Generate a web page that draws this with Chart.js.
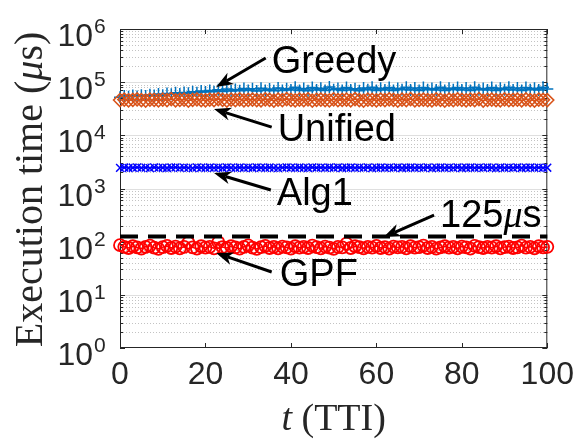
<!DOCTYPE html>
<html>
<head>
<meta charset="utf-8">
<script src="https://cdn.jsdelivr.net/npm/chart.js@4.4.1/dist/chart.umd.min.js"></script>
<style>
  html, body { margin: 0; padding: 0; background: #fff; }
  #wrap { width: 582px; height: 440px; position: relative; }
</style>
</head>
<body>
<div id="wrap"><canvas id="chart" width="582" height="440"></canvas></div>
<script>
// Time index (TTI), one sample per TTI
const tti = Array.from({ length: 101 }, (_, i) => i);

// Execution time per TTI, in microseconds
const greedyTimes = [
  52000, 55000, 53000, 56000, 54000, 57000, 55000, 58000, 56000, 60000,
  57000, 61000, 59000, 63000, 60000, 64000, 62000, 66000, 63000, 68000,
  65000, 70000, 66000, 72000, 67000, 74000, 68000, 73000, 69000, 76000,
  70000, 75000, 68000, 77000, 70000, 74000, 69000, 78000, 70000, 75000,
  71000, 80000, 70000, 76000, 69000, 79000, 71000, 77000, 70000, 81000,
  72000, 76000, 70000, 79000, 71000, 75000, 69000, 78000, 72000, 80000,
  70000, 77000, 71000, 79000, 70000, 76000, 72000, 80000, 71000, 78000,
  70000, 79000, 72000, 76000, 71000, 80000, 70000, 77000, 72000, 79000,
  71000, 78000, 70000, 80000, 72000, 76000, 71000, 79000, 70000, 77000,
  72000, 80000, 71000, 78000, 70000, 79000, 72000, 77000, 71000, 80000,
  74000
];
const unifiedTimes = [
  46000, 47000, 45500, 46500, 47500, 46000, 45000, 47000, 46500, 45500,
  47000, 46000, 48000, 45500, 46500, 47000, 45000, 46500, 47500, 46000,
  45500, 47000, 46000, 48000, 46500, 45000, 47000, 46000, 47500, 45500,
  46500, 47000, 46000, 45500, 47500, 46500, 45000, 47000, 46000, 48000,
  46500, 45500, 47000, 46000, 47500, 45000, 46500, 47000, 46000, 45500,
  47500, 46000, 46500, 47000, 45500, 48000, 46000, 45000, 47000, 46500,
  45500, 47000, 46000, 47500, 46500, 45000, 47000, 46000, 48000, 45500,
  46500, 47000, 46000, 45500, 47500, 46500, 45000, 47000, 46000, 47500,
  46500, 45500, 47000, 46000, 48000, 45000, 46500, 47000, 46000, 45500,
  47500, 46000, 46500, 47000, 45500, 47500, 46000, 45000, 47000, 46500,
  46000
];
const alg1Times = [
  2450, 2480, 2430, 2460, 2500, 2440, 2470, 2420, 2490, 2450,
  2460, 2430, 2480, 2500, 2440, 2470, 2450, 2420, 2490, 2460,
  2440, 2480, 2450, 2470, 2430, 2500, 2460, 2440, 2480, 2450,
  2470, 2430, 2490, 2460, 2440, 2480, 2450, 2420, 2470, 2500,
  2460, 2440, 2480, 2450, 2430, 2490, 2460, 2470, 2440, 2480,
  2450, 2500, 2430, 2460, 2480, 2440, 2470, 2450, 2490, 2420,
  2460, 2480, 2440, 2470, 2450, 2500, 2430, 2460, 2480, 2440,
  2470, 2450, 2490, 2420, 2460, 2480, 2440, 2470, 2450, 2500,
  2430, 2460, 2480, 2440, 2470, 2450, 2490, 2460, 2420, 2480,
  2440, 2470, 2450, 2500, 2430, 2460, 2480, 2440, 2470, 2450,
  2460
];
const gpfTimes = [
  86, 80, 76, 82, 78, 74, 80, 84, 77, 73,
  79, 83, 76, 81, 75, 80, 96, 78, 74, 82,
  77, 80, 75, 98, 79, 76, 82, 78, 74, 80,
  85, 77, 73, 79, 83, 76, 80, 75, 81, 78,
  74, 82, 77, 80, 76, 84, 79, 75, 81, 77,
  73, 80, 78, 92, 76, 82, 79, 75, 80, 77,
  83, 76, 79, 74, 81, 78, 80, 75, 82, 77,
  79, 84, 76, 80, 74, 78, 82, 77, 80, 75,
  81, 78, 74, 83, 79, 76, 80, 77, 82, 75,
  79, 81, 76, 78, 84, 77, 80, 75, 82, 78,
  80
];
// Real-time budget per TTI
const budgetTime = 125;
const budgetSpan = [0, 100];

// Axis ticks
const xTickStep = 20;
const yDecades = [0, 1, 2, 3, 4, 5, 6];

// Callouts: label, text anchor (t, µs), arrow tail and head (t, µs)
const callouts = [
  { parts: [['Greedy', 'sans']], text: [35.5, 1.49e5], tail: [34.1, 2.85e5], head: [22.5, 8.1e4] },
  { parts: [['Unified', 'sans']], text: [36.9, 7.8e3], tail: [35.5, 1.43e4], head: [22.0, 3.13e4] },
  { parts: [['Alg1', 'sans']], text: [36.7, 489], tail: [35.3, 937], head: [22.0, 1955] },
  { parts: [['GPF', 'sans']], text: [37.4, 14.7], tail: [35.5, 26.9], head: [22.5, 61] },
  { parts: [['125', 'sans'], ['\u03BC', 'ital'], ['s', 'sans']], text: [74.9, 189], tail: [73.5, 317], head: [61.7, 122] }
];

const toXY = (vals) => vals.map((v, i) => ({ x: tti[i], y: v }));

const AXIS = '#262626';
const SANS = '"Liberation Sans", Arial, sans-serif';
const SERIF = '"Liberation Serif", "Times New Roman", serif';

const fonts = {
  sans: '38px ' + SANS,
  ital: 'italic 38px ' + SERIF
};

function drawParts(ctx, parts, x, y, fontMap, align) {
  let total = 0;
  const widths = parts.map(([s, f]) => { ctx.font = fontMap[f]; const w = ctx.measureText(s).width; total += w; return w; });
  let cx = align === 'center' ? x - total / 2 : x;
  parts.forEach(([s, f], i) => {
    ctx.font = fontMap[f];
    ctx.fillText(s, cx, y);
    cx += widths[i];
  });
}

const frame = {
  id: 'frame',
  beforeDatasetsDraw(chart) {
    const { ctx, chartArea: a, scales: { x, y } } = chart;
    ctx.save();
    // horizontal grid: solid at decades, dotted in between
    for (let d = 0; d < yDecades.length - 1; d++) {
      for (let m = 1; m <= 9; m++) {
        const py = Math.round(y.getPixelForValue(m * Math.pow(10, yDecades[d]))) + 0.5;
        if (m === 1 && d === 0) continue;
        ctx.beginPath();
        if (m === 1) { ctx.setLineDash([]); ctx.strokeStyle = 'rgba(38,38,38,0.15)'; }
        else { ctx.setLineDash([1, 2]); ctx.strokeStyle = 'rgba(38,38,38,0.28)'; }
        ctx.lineWidth = 1;
        ctx.moveTo(a.left, py); ctx.lineTo(a.right, py); ctx.stroke();
      }
    }
    ctx.setLineDash([]);
    ctx.strokeStyle = AXIS;
    ctx.lineWidth = 1;
    // box
    ctx.strokeRect(a.left + 0.5, a.top + 0.5, a.right - a.left - 1, a.bottom - a.top - 1);
    // x ticks, inward on bottom and top
    ctx.beginPath();
    for (let t = 0; t <= 100; t += xTickStep) {
      const px = Math.round(x.getPixelForValue(t)) + 0.5;
      ctx.moveTo(px, a.bottom); ctx.lineTo(px, a.bottom - 5);
      ctx.moveTo(px, a.top); ctx.lineTo(px, a.top + 5);
    }
    // y ticks, inward on left and right (major and minor)
    for (let d = 0; d < yDecades.length; d++) {
      for (let m = 1; m <= 9; m++) {
        if (d === yDecades.length - 1 && m > 1) break;
        const py = Math.round(y.getPixelForValue(m * Math.pow(10, yDecades[d]))) + 0.5;
        const len = m === 1 ? 5 : 3;
        ctx.moveTo(a.left, py); ctx.lineTo(a.left + len, py);
        ctx.moveTo(a.right, py); ctx.lineTo(a.right - len, py);
      }
    }
    ctx.stroke();
    ctx.restore();
  },
  afterDraw(chart) {
    const { ctx, chartArea: a, scales: { x, y } } = chart;
    ctx.save();
    ctx.fillStyle = AXIS;
    // y tick labels 10^n
    yDecades.forEach((p) => {
      const py = y.getPixelForValue(Math.pow(10, p));
      ctx.textAlign = 'right';
      ctx.textBaseline = 'alphabetic';
      ctx.font = '32px ' + SANS;
      ctx.fillText('10', 93, py + 17);
      ctx.textAlign = 'left';
      ctx.font = '21px ' + SANS;
      ctx.fillText(String(p), 94, py + 4);
    });
    // axis titles
    ctx.textBaseline = 'alphabetic';
    ctx.textAlign = 'left';
    drawParts(ctx, [['t', 'i'], [' (TTI)', 'r']], (a.left + a.right) / 2, 430,
      { i: 'italic 38px ' + SERIF, r: '38px ' + SERIF }, 'center');
    ctx.save();
    ctx.translate(42, (a.top + a.bottom) / 2 + 1);
    ctx.rotate(-Math.PI / 2);
    drawParts(ctx, [['Execution time (', 'r'], ['\u03BC', 'i'], ['s)', 'r']], 0, 0,
      { i: 'italic 40px ' + SERIF, r: '40px ' + SERIF }, 'center');
    ctx.restore();

    // callouts with arrows
    ctx.fillStyle = '#000';
    ctx.strokeStyle = '#000';
    callouts.forEach((c) => {
      const tx = x.getPixelForValue(c.tail[0]), ty = y.getPixelForValue(c.tail[1]);
      const hx = x.getPixelForValue(c.head[0]), hy = y.getPixelForValue(c.head[1]);
      const ang = Math.atan2(hy - ty, hx - tx);
      const L = 17, W = 6.5, N = 12;
      const bx = hx - L * Math.cos(ang), by = hy - L * Math.sin(ang);
      const nx = hx - N * Math.cos(ang), ny = hy - N * Math.sin(ang);
      ctx.lineWidth = 3;
      ctx.lineCap = 'butt';
      ctx.beginPath();
      ctx.moveTo(tx, ty); ctx.lineTo(nx, ny); ctx.stroke();
      ctx.beginPath();
      ctx.moveTo(hx, hy);
      ctx.lineTo(bx - W * Math.sin(ang), by + W * Math.cos(ang));
      ctx.lineTo(nx, ny);
      ctx.lineTo(bx + W * Math.sin(ang), by - W * Math.cos(ang));
      ctx.closePath();
      ctx.fill();
      ctx.textAlign = 'left';
      ctx.textBaseline = 'alphabetic';
      drawParts(ctx, c.parts, x.getPixelForValue(c.text[0]), y.getPixelForValue(c.text[1]), fonts, 'left');
    });
    ctx.restore();
  }
};

const clear = 'rgba(0,0,0,0)';

new Chart(document.getElementById('chart'), {
  type: 'line',
  data: {
    datasets: [
      {
        label: 'Greedy', data: toXY(greedyTimes), order: 5,
        borderColor: '#0072BD', borderWidth: 1.5,
        pointStyle: 'cross', pointRadius: 6, pointBorderWidth: 1.5,
        pointBorderColor: '#0072BD', pointBackgroundColor: clear
      },
      {
        label: 'Unified', data: toXY(unifiedTimes), order: 4,
        borderColor: '#D95319', borderWidth: 1.5,
        pointStyle: 'rectRot', pointRadius: 6.5, pointBorderWidth: 1.5,
        pointBorderColor: '#D95319', pointBackgroundColor: clear
      },
      {
        label: 'Alg1', data: toXY(alg1Times), order: 3,
        borderColor: '#0000FF', borderWidth: 1.5,
        pointStyle: 'crossRot', pointRadius: 5.5, pointBorderWidth: 1.5,
        pointBorderColor: '#0000FF', pointBackgroundColor: clear
      },
      {
        label: 'GPF', data: toXY(gpfTimes), order: 2,
        borderColor: '#FF0000', borderWidth: 1.5,
        pointStyle: 'circle', pointRadius: 6, pointBorderWidth: 1.8,
        pointBorderColor: '#FF0000', pointBackgroundColor: clear
      },
      {
        label: '125 µs', data: budgetSpan.map((t) => ({ x: t, y: budgetTime })), order: 1,
        borderColor: '#000', borderWidth: 4, borderDash: [18, 10],
        pointRadius: 0
      }
    ]
  },
  options: {
    responsive: false,
    animation: false,
    devicePixelRatio: 1,
    clip: false,
    layout: { padding: { top: 29, right: 31, left: 0, bottom: 0 } },
    plugins: { legend: { display: false }, tooltip: { enabled: false } },
    elements: { line: { tension: 0 } },
    scales: {
      x: {
        type: 'linear', min: 0, max: 100,
        grid: { display: false, drawTicks: false, tickLength: 0 },
        border: { display: false },
        ticks: { stepSize: xTickStep, color: AXIS, font: { family: SANS, size: 32 }, padding: 8, maxRotation: 0 },
        afterFit(s) { s.height = 92; }
      },
      y: {
        type: 'logarithmic', min: 1, max: 1e6,
        grid: { display: false, drawTicks: false },
        border: { display: false },
        ticks: { display: false },
        afterFit(s) { s.width = 120; }
      }
    }
  },
  plugins: [frame]
});
</script>
</body>
</html>
